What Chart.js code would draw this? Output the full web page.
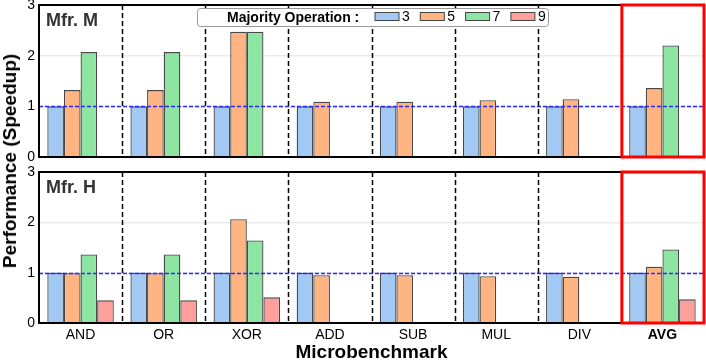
<!DOCTYPE html>
<html>
<head>
<meta charset="utf-8">
<script src="https://cdn.jsdelivr.net/npm/chart.js@4"></script>
<style>
    body { margin: 0; width: 706px; height: 364px; overflow: hidden; position: relative; background: #fff; font-family: "Liberation Sans", Arial, sans-serif; }
    canvas { position: absolute; left: 0; }
    #chart-top { top: 0; }
    #chart-bottom { top: 165px; }
    #y-title { position: absolute; left: 10px; top: 161px; transform: translate(-50%, -50%) rotate(-90deg); font-weight: bold; font-size: 19px; white-space: nowrap; color: #000; }
</style>
</head>
<body>
<canvas id="chart-top" width="706" height="162"></canvas>
<canvas id="chart-bottom" width="706" height="199"></canvas>
<div id="y-title">Performance (Speedup)</div>
<script>
// Data
const categories = ['AND', 'OR', 'XOR', 'ADD', 'SUB', 'MUL', 'DIV', 'AVG'];
const opLabels = ['3', '5', '7', '9'];
const yTicks = [0, 1, 2, 3];
const baseline = 1;

// Mfr. M
const mfrM_3 = [1, 1, 1, 1, 1, 1, 1, 1];
const mfrM_5 = [1.32, 1.32, 2.47, 1.09, 1.09, 1.12, 1.14, 1.36];
const mfrM_7 = [2.07, 2.07, 2.47, null, null, null, null, 2.2];
const mfrM_9 = [null, null, null, null, null, null, null, null];

// Mfr. H
const mfrH_3 = [1, 1, 1, 1, 1, 1, 1, 1];
const mfrH_5 = [0.99, 0.99, 2.06, 0.95, 0.95, 0.93, 0.92, 1.12];
const mfrH_7 = [1.36, 1.36, 1.64, null, null, null, null, 1.46];
const mfrH_9 = [0.45, 0.45, 0.51, null, null, null, null, 0.47];

const opColors = ['#a1c9f4', '#ffb482', '#8de5a1', '#ff9f9b'];
const FONT = '"Liberation Sans", Arial, sans-serif';
Chart.defaults.font.family = FONT;
Chart.defaults.color = '#000';

// separators, baseline, frame, highlight box, panel label and legend
const panelDecor = {
    id: 'panelDecor',
    beforeDatasetsDraw(chart) {
        const { ctx, chartArea: a, scales: { x } } = chart;
        ctx.save();
        ctx.strokeStyle = '#000';
        ctx.lineWidth = 1.5;
        ctx.setLineDash([5, 3]);
        for (let i = 1; i < categories.length - 1; i++) {
            const bx = Math.round((x.getPixelForValue(i - 1) + x.getPixelForValue(i)) / 2) + 0.5;
            ctx.beginPath();
            ctx.moveTo(bx, a.top);
            ctx.lineTo(bx, a.bottom);
            ctx.stroke();
        }
        ctx.restore();
    },
    afterDatasetsDraw(chart, args, opts) {
        const { ctx, chartArea: a, scales: { x, y } } = chart;
        ctx.save();

        // baseline at speedup 1
        const by = Math.round(y.getPixelForValue(baseline)) + 0.5;
        ctx.strokeStyle = '#2a2aff';
        ctx.lineWidth = 1.5;
        ctx.setLineDash([4, 2]);
        ctx.beginPath();
        ctx.moveTo(a.left, by);
        ctx.lineTo(a.right, by);
        ctx.stroke();
        ctx.setLineDash([]);

        // panel frame
        ctx.strokeStyle = '#000';
        ctx.lineWidth = 2;
        ctx.strokeRect(a.left, a.top, a.right - a.left, a.bottom - a.top);

        // red box round AVG
        const n = categories.length;
        const x0 = (x.getPixelForValue(n - 2) + x.getPixelForValue(n - 1)) / 2;
        ctx.strokeStyle = '#ff0000';
        ctx.lineWidth = 3;
        ctx.strokeRect(x0 + 1, a.top, a.right - x0 - 1, a.bottom - a.top);

        // panel label
        ctx.fillStyle = '#333';
        ctx.font = 'bold 18px ' + FONT;
        ctx.textBaseline = 'alphabetic';
        ctx.textAlign = 'left';
        ctx.fillText(opts.label, a.left + 7, a.top + opts.labelDy);

        if (opts.legend) {
            ctx.fillStyle = '#fff';
            ctx.strokeStyle = '#999';
            ctx.lineWidth = 1;
            ctx.beginPath();
            ctx.roundRect(197.5, 8.5, 351, 18, 3);
            ctx.fill();
            ctx.stroke();

            ctx.fillStyle = '#000';
            ctx.font = 'bold 14px ' + FONT;
            ctx.textBaseline = 'middle';
            ctx.fillText('Majority Operation :', 227, 18);

            ctx.font = '14px ' + FONT;
            opLabels.forEach((lab, i) => {
                const sx = 375 + i * 45.3;
                ctx.fillStyle = opColors[i];
                ctx.fillRect(sx, 12.5, 24, 8);
                ctx.strokeStyle = '#444';
                ctx.strokeRect(sx, 12.5, 24, 8);
                ctx.fillStyle = '#000';
                ctx.fillText(lab, sx + 27, 17.5);
            });
        }
        ctx.restore();
    }
};

function makeDatasets(series) {
    return series.map((vals, i) => ({
        label: opLabels[i],
        data: vals,
        backgroundColor: opColors[i],
        borderColor: 'rgba(40,40,40,0.85)',
        borderWidth: 1.3,
        categoryPercentage: 0.8,
        barPercentage: 1.0
    }));
}

function makeChart(id, series, opts) {
    return new Chart(document.getElementById(id), {
        type: 'bar',
        data: {
            labels: categories,
            datasets: makeDatasets(series)
        },
        options: {
            responsive: false,
            animation: false,
            layout: { padding: { top: opts.padTop, right: 2, left: 0, bottom: 0 } },
            plugins: {
                legend: { display: false },
                tooltip: { enabled: false },
                panelDecor: { label: opts.label, legend: opts.legend, labelDy: opts.labelDy }
            },
            scales: {
                x: {
                    offset: true,
                    grid: { display: false, drawTicks: false },
                    border: { display: false },
                    ticks: {
                        display: opts.showX,
                        padding: 4,
                        color: '#000',
                        font: (c) => ({ family: FONT, size: 14, weight: categories[c.index] === 'AVG' ? 'bold' : 'normal' })
                    },
                    title: {
                        display: opts.showX,
                        text: 'Microbenchmark',
                        color: '#000',
                        font: { family: FONT, size: 19, weight: 'bold' },
                        padding: { top: 0, bottom: 0 }
                    },
                    afterFit(scale) {
                        scale.height = opts.xHeight;
                        scale.paddingLeft = 0;
                        scale.paddingRight = 0;
                    }
                },
                y: {
                    min: 0,
                    max: 3,
                    afterBuildTicks(scale) { scale.ticks = yTicks.map(v => ({ value: v })); },
                    grid: { color: '#ebebeb', lineWidth: 1.5, drawTicks: false },
                    border: { display: false },
                    ticks: { padding: 4, color: '#000', font: { family: FONT, size: 14 } },
                    afterFit(scale) {
                        scale.width = 39;
                        scale.paddingTop = 0;
                        scale.paddingBottom = 0;
                    }
                }
            }
        },
        plugins: [panelDecor]
    });
}

makeChart('chart-top', [mfrM_3, mfrM_5, mfrM_7, mfrM_9],
    { padTop: 5, xHeight: 5, showX: false, label: 'Mfr. M', legend: true, labelDy: 21 });
makeChart('chart-bottom', [mfrH_3, mfrH_5, mfrH_7, mfrH_9],
    { padTop: 7, xHeight: 41, showX: true, label: 'Mfr. H', legend: false, labelDy: 21 });
</script>
</body>
</html>
